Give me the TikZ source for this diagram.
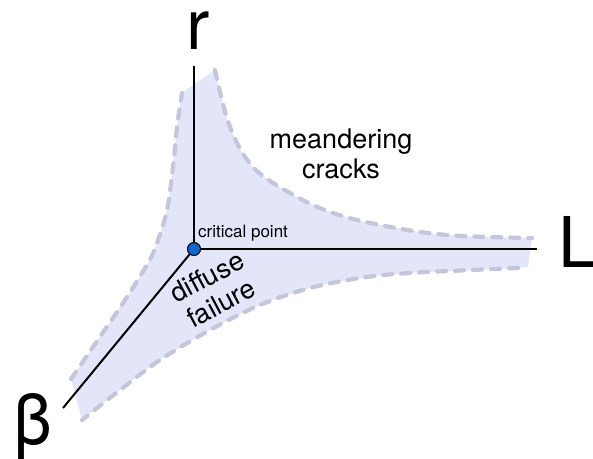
\documentclass[tikz,border=0pt]{standalone}
\usepackage{fontspec}
\setmainfont{TeX Gyre Heros}
\usepackage{tikz}
\usetikzlibrary{arrows.meta}
\definecolor{phasefill}{HTML}{E3E5F8}
\definecolor{phaseedge}{HTML}{C5C5DB}
\definecolor{pointblue}{HTML}{1166CC}

\begin{document}
\begin{tikzpicture}[x=1pt,y=1pt,
    boundary/.style={phaseedge,line width=4.2pt,dash pattern=on 9pt off 9pt,line cap=round},
    axis/.style={black,line width=2pt},
    biglabel/.style={font=\fontsize{70}{84}\selectfont,inner sep=0pt},
    phaselabel/.style={font=\fontsize{27}{30}\selectfont,align=center,inner sep=0pt}]
  \useasboundingbox (0,0) rectangle (593,458);
  % shaded region of the phase diagram
  \fill[phasefill] plot[smooth,tension=0.6] coordinates {(215,388) (230,331) (253,291) (290,265) (330,246) (380,233) (447,223) (532,220)}
    -- (528,191)
    -- plot[smooth,tension=0.6] coordinates {(518,190) (410,185) (360,180) (310,170) (260,153) (210,128) (160,98) (120,68) (82,38)}
    -- (71,79)
    -- plot[smooth,tension=0.6] coordinates {(71,79) (93,111) (123,155) (148,195) (157,215) (167,248) (173,291) (177,331) (182,365)}
    -- cycle;
  \draw[boundary] plot[smooth,tension=0.6] coordinates {(215,388) (230,331) (253,291) (290,265) (330,246) (380,233) (447,223) (532,220)};
  \draw[boundary] plot[smooth,tension=0.6] coordinates {(518,190) (410,185) (360,180) (310,170) (260,153) (210,128) (160,98) (120,68) (82,38)};
  \draw[boundary] plot[smooth,tension=0.6] coordinates {(71,79) (93,111) (123,155) (148,195) (157,215) (167,248) (173,291) (177,331) (182,365)};
  % axes
  \coordinate (cp) at (194,209);
  \coordinate (rend) at (194,392);
  \coordinate (Lend) at (537,209);
  \coordinate (bend) at (63,50);
  \draw[axis] (cp) -- (rend);
  \draw[axis] (cp) -- (Lend);
  \draw[axis] (cp) -- (bend);
  \node[biglabel,anchor=base] (rlab) at (198,408) {r};
  \node[biglabel,anchor=base west] (Llab) at (558,191) {L};
  \node[biglabel,anchor=base] (blab) at (33,14) {β};
  % critical point
  \node[circle,fill=pointblue,draw=black,line width=1pt,minimum size=13pt,inner sep=0pt] (crit) at (cp) {};
  \node[anchor=base west,inner sep=0pt,font=\fontsize{17}{20}\selectfont] (critlab) at (198,221) {critical point};
  \node[phaselabel] (mc) at (341,304) {meandering\\cracks};
  \node[phaselabel,rotate=28] (df) at (214,168) {diffuse\\failure};
\end{tikzpicture}
\end{document}
